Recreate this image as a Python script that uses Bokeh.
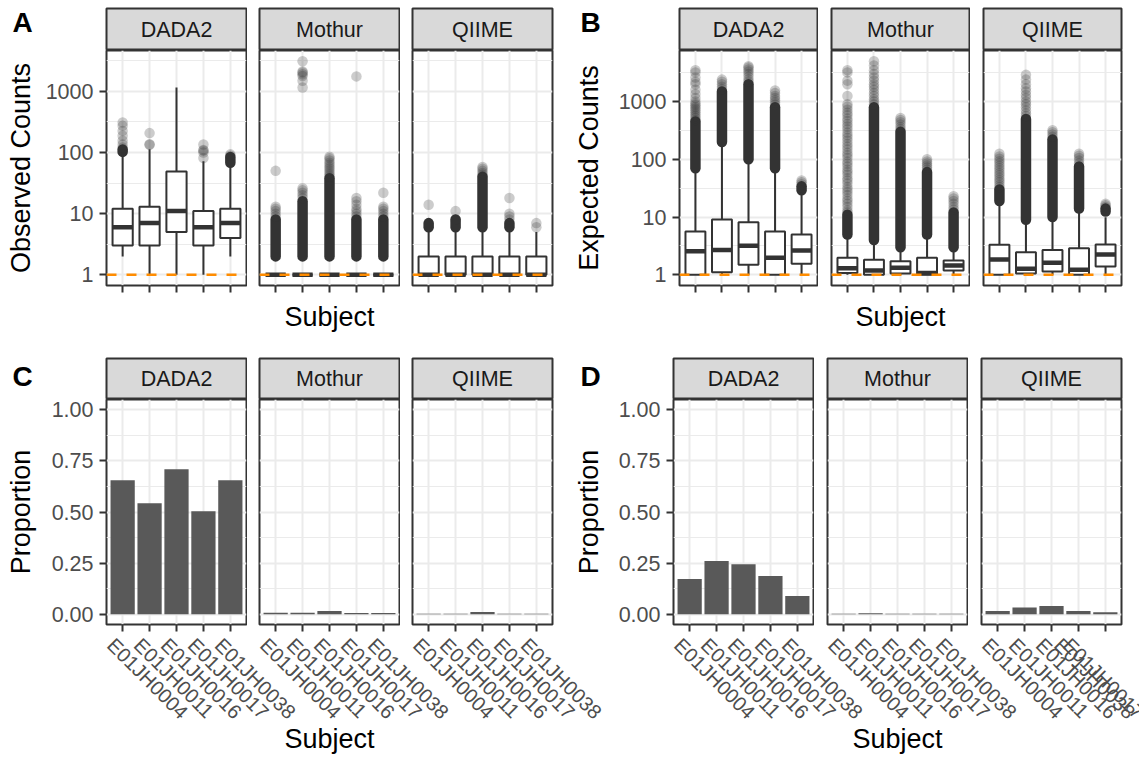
import math

from bokeh.core.properties import value
from bokeh.embed import file_html
from bokeh.layouts import column, row
from bokeh.models import FixedTicker, NumeralTickFormatter, Range1d, Span
from bokeh.plotting import figure
from bokeh.resources import INLINE

# ---------------------------------------------------------------- data
pipelines = ["DADA2", "Mothur", "QIIME"]
subjects = ["E01JH0004", "E01JH0011", "E01JH0016", "E01JH0017", "E01JH0038"]

# A: observed counts per subject -- box statistics (whisker low, Q1, median, Q3, whisker high)
obs_low = {"DADA2": [2, 1, 1, 1, 2], "Mothur": [1, 1, 1, 1, 1], "QIIME": [1, 1, 1, 1, 1]}
obs_q1 = {"DADA2": [3, 3, 5, 3, 4], "Mothur": [1, 1, 1, 1, 1], "QIIME": [1, 1, 1, 1, 1]}
obs_med = {"DADA2": [6, 7, 11, 6, 7], "Mothur": [1, 1, 1, 1, 1], "QIIME": [1, 1, 1, 1, 1]}
obs_q3 = {"DADA2": [12, 13, 49, 11, 12], "Mothur": [1, 1, 1, 1, 1], "QIIME": [2, 2, 2, 2, 2]}
obs_high = {"DADA2": [95, 113, 1150, 72, 60], "Mothur": [1, 1, 1, 1, 1], "QIIME": [5, 5, 5, 5, 5]}
# stretches where outliers pile up into a solid column (from, to); None = no such stretch
obs_run_lo = {"DADA2": [102, None, None, None, 68], "Mothur": [2, 2, 2, 2, 2], "QIIME": [6, 6, 6, 6, None]}
obs_run_hi = {"DADA2": [112, None, None, None, 84], "Mothur": [8, 16, 38, 8, 8], "QIIME": [7, 8, 40, 7, None]}
obs_outliers = {
    "DADA2": [[120, 135, 155, 187, 225, 272, 309], [133, 136, 207], [],
              [81, 100, 107, 110, 135], [88, 93]],
    "Mothur": [[9, 10, 11, 12, 13, 50],
               [18, 20, 22, 24, 26, 1150, 1480, 1780, 1900, 2020, 2100, 3100],
               [40, 43, 46, 50, 54, 58, 63, 68, 74, 80, 85],
               [9, 10, 11, 12, 14, 16, 18, 1750],
               [9, 10, 11, 12, 13, 22]],
    "QIIME": [[14], [8, 11], [43, 46, 50, 54, 58], [8, 9, 10, 18], [6, 7]],
}

# B: expected counts per subject
exp_low = {"DADA2": [1, 1, 1, 1, 1], "Mothur": [1, 1, 1, 1, 1], "QIIME": [1, 1, 1, 1, 1]}
exp_q1 = {"DADA2": [1.0, 1.11, 1.49, 1.0, 1.55], "Mothur": [1.08, 1.0, 1.05, 1.0, 1.19],
          "QIIME": [1.0, 1.05, 1.14, 1.0, 1.39]}
exp_med = {"DADA2": [2.56, 2.7, 3.2, 1.97, 2.63], "Mothur": [1.3, 1.19, 1.32, 1.07, 1.45],
           "QIIME": [1.84, 1.27, 1.61, 1.22, 2.24]}
exp_q3 = {"DADA2": [5.6, 9.06, 8.1, 5.6, 4.98], "Mothur": [1.97, 1.82, 1.72, 1.97, 1.77],
          "QIIME": [3.3, 2.46, 2.7, 2.89, 3.35]}
exp_high = {"DADA2": [65, 180, 89, 65, 27], "Mothur": [4.5, 3.4, 2.6, 4.5, 2.6],
            "QIIME": [16.9, 7.8, 8.7, 12.1, 9.9]}
exp_run_lo = {"DADA2": [70, 200, 100, 70, 29], "Mothur": [5, 4, 3, 5, 3], "QIIME": [19, 9, 10, 14, 12.5]}
exp_run_hi = {"DADA2": [450, 1500, 2000, 800, 34], "Mothur": [11, 800, 300, 60, 12],
              "QIIME": [30, 500, 220, 75, 14]}
exp_outliers = {
    "DADA2": [[480, 520, 560, 600, 650, 700, 750, 800, 860, 920, 1000, 1150, 1350, 1600, 2000,
               2200, 2600, 3200, 3500],
              [1650, 1800, 2000, 2200, 2400],
              [2200, 2400, 2700, 3000, 3300, 3600, 3900, 4100],
              [880, 960, 1050, 1150, 1250, 1400, 1550],
              [37, 40, 43]],
    "Mothur": [[12, 13, 15, 17, 19, 21, 24, 27, 30, 33, 38, 43, 47, 54, 60, 66, 75, 84, 92, 105,
                118, 130, 148, 166, 185, 210, 235, 260, 290, 330, 370, 410, 460, 510, 580, 640,
                720, 810, 900, 1250, 2000, 2300, 3200, 3500],
               [900, 1000, 1100, 1250, 1400, 1600, 1800, 2000, 2300, 2600, 3000, 3500, 4200, 5000],
               [330, 360, 400, 440, 480, 520],
               [66, 72, 78, 85, 92, 100],
               [13.5, 15, 17, 19, 21, 23]],
    "QIIME": [[33, 36, 40, 44, 48, 53, 58, 64, 70, 77, 85, 93, 102, 112, 125],
              [560, 620, 700, 800, 900, 1000, 1150, 1300, 1500, 1700, 2000, 2400, 2900],
              [245, 270, 295, 320],
              [85, 95, 105, 115, 125],
              [15, 16, 17]],
}

# C / D: proportion of observed and expected counts per subject
prop_observed = {"DADA2": [0.655, 0.543, 0.709, 0.504, 0.655],
                 "Mothur": [0.007, 0.007, 0.016, 0.006, 0.006],
                 "QIIME": [0.003, 0.003, 0.011, 0.003, 0.003]}
prop_expected = {"DADA2": [0.172, 0.260, 0.245, 0.187, 0.089],
                 "Mothur": [0.002, 0.005, 0.002, 0.002, 0.002],
                 "QIIME": [0.016, 0.033, 0.041, 0.016, 0.010]}

reference_count = 1

# ---------------------------------------------------------------- style
FONT = "Liberation Sans"
INK = "#333333"
GRID = "#EBEBEB"
TICK_TEXT = "#4D4D4D"
STRIP_FILL = "#D9D9D9"
BAR_FILL = "#595959"
REF_LINE = "#FF8C00"
BOX_W = 0.75
BAR_W = 0.9
PT_SIZE = 10.5
TICK_FONT = "21.5px"
SUBJECT_FONT = "20px"
TITLE_FONT = "27px"
TICK_LEN = 7

xs = list(range(1, len(subjects) + 1))
X_PAD = 0.6

# vertical layout of the two rows
TOP_STRIP_PAD, TOP_STRIP_H, TOP_FRAME_H, TOP_BAND_H = 8, 42, 235, 47
BOT_STRIP_PAD, BOT_STRIP_H, BOT_FRAME_H, BOT_BAND_H = 18, 41, 225, 135
FRAME_BELOW = 8
LABEL_SHIFT = -12


def log_range(*groups):
    top = max(max(max(v) for v in g.values() if v) for g in groups)
    m = math.log10(top)
    return Range1d(10 ** (-0.05 * m), 10 ** (1.05 * m))


def flat_values(d):
    return {k: [x for lst in v for x in lst] for k, v in d.items()}


def present(d):
    return {k: [x for x in v if x is not None] for k, v in d.items()}


def new_fig(width, height, mbl, mbr, mbt, mbb, x_range, y_range, log=False):
    p = figure(width=width, height=height, x_range=x_range, y_range=y_range,
               y_axis_type="log" if log else "linear",
               output_backend="svg", toolbar_location=None,
               min_border_left=mbl, min_border_right=mbr,
               min_border_top=mbt, min_border_bottom=mbb)
    p.title.visible = False
    p.background_fill_color = "white"
    p.border_fill_color = "white"
    p.outline_line_color = INK
    p.outline_line_width = 2
    return p


def style_axes(p):
    for ax in p.axis:
        ax.axis_line_color = None
        ax.major_tick_line_color = INK
        ax.major_tick_line_width = 2
        ax.major_tick_out = TICK_LEN
        ax.major_tick_in = 0
        ax.minor_tick_line_color = None
        ax.minor_tick_out = 0
        ax.minor_tick_in = 0
        ax.major_label_text_font = FONT
        ax.major_label_text_font_size = TICK_FONT
        ax.major_label_text_color = TICK_TEXT
        ax.major_label_standoff = 6
        ax.axis_label_text_font = FONT
        ax.axis_label_text_font_size = TITLE_FONT
        ax.axis_label_text_font_style = "normal"
        ax.axis_label_text_color = "black"


def blank_fig(width, height):
    p = new_fig(width, height, 0, 0, 0, 0, Range1d(0, width), Range1d(0, height))
    p.outline_line_color = None
    p.axis.visible = False
    p.grid.visible = False
    return p


def letter_fig(letter, width, height, left, baseline):
    p = blank_fig(width, height)
    p.text(x=[left], y=[height - baseline], text=[letter], text_font=value(FONT),
           text_font_size="28px", text_font_style="bold", text_color="black",
           text_baseline="alphabetic")
    return p


def strip_fig(name, width, mbl, mbr, pad, h):
    p = new_fig(width, pad + h, mbl, mbr, pad, 0, Range1d(0, 1), Range1d(0, 1))
    p.axis.visible = False
    p.grid.visible = False
    p.background_fill_color = STRIP_FILL
    p.text(x=[0.5], y=[0.5], text=[name], text_align="center", text_baseline="middle",
           text_font=value(FONT), text_font_size=TICK_FONT, text_color="#1A1A1A")
    return p


def draw_boxes(p, name, low, q1, med, q3, high, run_lo, run_hi, outliers):
    # outliers first, box on top
    ox, oy = [], []
    for x, vals in zip(xs, outliers[name]):
        ox += [x] * len(vals)
        oy += vals
    rx = [x for x, v in zip(xs, run_lo[name]) if v is not None]
    r0 = [v for v in run_lo[name] if v is not None]
    r1 = [v for v in run_hi[name] if v is not None]
    if rx:
        p.segment(x0=rx, y0=r0, x1=rx, y1=r1, line_width=PT_SIZE, line_cap="round",
                  line_color=INK)
    if ox:
        p.scatter(x=ox, y=oy, size=PT_SIZE, fill_color=INK, fill_alpha=0.25, line_color=None)
    p.segment(x0=xs, y0=q3[name], x1=xs, y1=high[name], line_width=2, line_color=INK)
    p.segment(x0=xs, y0=low[name], x1=xs, y1=q1[name], line_width=2, line_color=INK)
    p.vbar(x=xs, width=BOX_W, bottom=q1[name], top=q3[name], fill_color="white",
           line_color=INK, line_width=2)
    p.segment(x0=[x - BOX_W / 2 for x in xs], x1=[x + BOX_W / 2 for x in xs],
              y0=med[name], y1=med[name], line_width=4.5, line_color=INK)
    p.add_layout(Span(location=reference_count, dimension="width", line_color=REF_LINE,
                      line_width=2.5, line_dash="10 10"))


def draw_bars(p, name, props):
    p.vbar(x=xs, width=BAR_W, bottom=0, top=props[name], fill_color=BAR_FILL, line_color=None)


def build_facets(letter, geom, top_row, y_label, y_label_standoff, y_range, log, ticks, minor,
                 fmt, drawer):
    band_l, band_r, left, w, gap, letter_x, letter_base = geom
    if top_row:
        pad, sh, fh = TOP_STRIP_PAD, TOP_STRIP_H, TOP_FRAME_H
    else:
        pad, sh, fh = BOT_STRIP_PAD, BOT_STRIP_H, BOT_FRAME_H
    cols = []
    start = band_l
    for k, name in enumerate(pipelines):
        fl = left + k * (w + gap)
        end = band_r if k == len(pipelines) - 1 else fl + w + 1
        width = end - start
        mbl, mbr = fl - start, end - fl - w
        p = new_fig(width, fh + FRAME_BELOW, mbl, mbr, 0, FRAME_BELOW,
                    Range1d(xs[0] - X_PAD, xs[-1] + X_PAD), y_range, log)
        style_axes(p)
        # x axis: tick marks only, the subject names are set in the band below
        p.xaxis.ticker = FixedTicker(ticks=xs)
        p.xaxis.major_label_text_color = None
        p.xaxis.major_label_standoff = 0
        p.yaxis.ticker = FixedTicker(ticks=ticks, minor_ticks=minor)
        p.yaxis.formatter = fmt
        p.xgrid.grid_line_color = GRID
        p.xgrid.grid_line_width = 2
        p.ygrid.grid_line_color = GRID
        p.ygrid.grid_line_width = 2
        p.ygrid.minor_grid_line_color = GRID
        p.ygrid.minor_grid_line_width = 1.2
        if k == 0:
            p.yaxis.axis_label = y_label
            p.yaxis.axis_label_standoff = y_label_standoff
            head = row(letter_fig(letter, mbl - 1, pad + sh, letter_x, letter_base),
                       strip_fig(name, width - mbl + 1, 1, mbr, pad, sh), spacing=0)
        else:
            p.yaxis.visible = False
            head = strip_fig(name, width, mbl, mbr, pad, sh)
        drawer(p, name)
        cols.append(column(head, p, spacing=0))
        start = end
    return cols


def subject_band(geom, band_l, band_r, height, with_labels, title_standoff):
    _, _, left, w, gap, _, _ = geom
    n = len(pipelines)
    u = w / (xs[-1] - xs[0] + 2 * X_PAD)
    span = (n * w + (n - 1) * gap) / u
    p = new_fig(band_r - band_l, height, left - band_l, band_r - (left + n * w + (n - 1) * gap),
                0, height - 1, Range1d(xs[0] - X_PAD, xs[0] - X_PAD + span), Range1d(0, 1))
    style_axes(p)
    p.outline_line_color = None
    p.grid.visible = False
    p.yaxis.visible = False
    p.xaxis.major_tick_out = 0
    p.xaxis.major_tick_line_color = None
    if with_labels:
        label_x, names = [], {}
        for k in range(n):
            for x, s in zip(xs, subjects):
                t = round(x + k * (w + gap) / u + LABEL_SHIFT / u, 6)
                label_x.append(t)
                names[t] = s
        p.xaxis.ticker = FixedTicker(ticks=label_x)
        p.xaxis.major_label_overrides = names
        p.xaxis.major_label_orientation = -math.pi / 4
        p.xaxis.major_label_text_font_size = SUBJECT_FONT
        p.xaxis.major_label_standoff = 8
    else:
        p.xaxis.ticker = FixedTicker(ticks=[])
        p.xaxis.major_label_standoff = 0
    p.xaxis.axis_label = "Subject"
    p.xaxis.axis_label_standoff = title_standoff
    return p


log_ticks = [1, 10, 100, 1000]
log_minor = [10 ** (e + 0.5) for e in range(-1, 4)]
prop_ticks = [0, 0.25, 0.5, 0.75, 1.0]
prop_minor = [0.125, 0.375, 0.625, 0.875]

obs_range = log_range(obs_high, flat_values(obs_outliers), present(obs_run_hi))
exp_range = log_range(exp_high, flat_values(exp_outliers), present(exp_run_hi))

# (band left, band right, first frame left, facet width, facet gap, letter x, letter baseline)
geom_A = (0, 570, 106, 140, 13, 12, 17)
geom_B = (570, 1139, 679, 138, 14, 10, 17)
geom_C = (0, 570, 106, 140, 13, 12, 26)
geom_D = (570, 1139, 673, 140, 14, 10, 26)

cols_A = build_facets("A", geom_A, True, "Observed Counts", 7, obs_range, True, log_ticks,
                      log_minor, NumeralTickFormatter(format="0"),
                      lambda p, n: draw_boxes(p, n, obs_low, obs_q1, obs_med, obs_q3, obs_high,
                                              obs_run_lo, obs_run_hi, obs_outliers))
cols_B = build_facets("B", geom_B, True, "Expected Counts", 12, exp_range, True, log_ticks,
                      log_minor, NumeralTickFormatter(format="0"),
                      lambda p, n: draw_boxes(p, n, exp_low, exp_q1, exp_med, exp_q3, exp_high,
                                              exp_run_lo, exp_run_hi, exp_outliers))
cols_C = build_facets("C", geom_C, False, "Proportion", 13, Range1d(-0.05, 1.05), False,
                      prop_ticks, prop_minor, NumeralTickFormatter(format="0.00"),
                      lambda p, n: draw_bars(p, n, prop_observed))
cols_D = build_facets("D", geom_D, False, "Proportion", 12, Range1d(-0.05, 1.05), False,
                      prop_ticks, prop_minor, NumeralTickFormatter(format="0.00"),
                      lambda p, n: draw_bars(p, n, prop_expected))

band_A = subject_band(geom_A, 0, 570, TOP_BAND_H, False, 7)
band_B = subject_band(geom_B, 570, 1139, TOP_BAND_H, False, 7)
band_C = subject_band(geom_C, 0, 615, BOT_BAND_H, True, -10)
band_D = subject_band(geom_D, 615, 1139, BOT_BAND_H, True, -10)

layout = column(
    row(*cols_A, *cols_B, spacing=0),
    row(band_A, band_B, spacing=0),
    row(*cols_C, *cols_D, spacing=0),
    row(band_C, band_D, spacing=0),
    spacing=0,
)

open("out.html", "w").write(file_html(layout, INLINE))
